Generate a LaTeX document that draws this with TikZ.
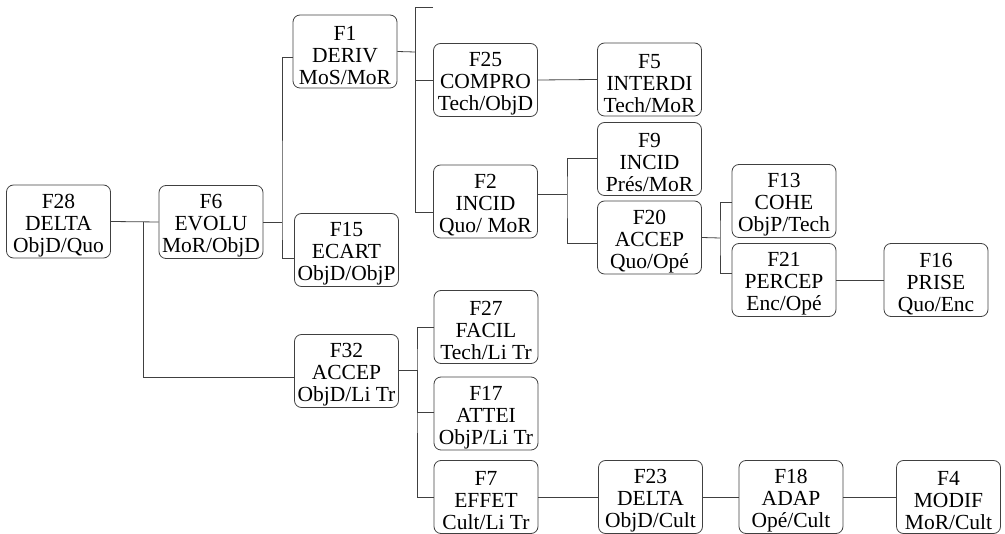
\documentclass[tikz,border=0pt]{standalone}
\usepackage{fontspec}
\setmainfont{Liberation Serif}
\newcommand\boxtext[3]{\raisebox{0pt}[22pt]{#1}\\#2\\#3}
\begin{document}
\begin{tikzpicture}[x=1pt,y=-1pt,
  fbox/.style={draw=black!75, line width=0.8pt, rounded corners=7pt,
    minimum width=104pt, minimum height=73pt, inner sep=0pt, align=center,
    font=\fontsize{21.5}{22}\selectfont},
  link/.style={draw=black!75, line width=0.8pt}]
\useasboundingbox (0,0) rectangle (1005,534);
% boxes
\node[fbox] (F28) at (58.5,221.5) {\boxtext{F28}{DELTA}{ObjD/Quo}};
\node[fbox] (F6)  at (211,222)   {\boxtext{F6}{EVOLU}{MoR/ObjD}};
\node[fbox] (F1)  at (345,51.5)  {\boxtext{F1}{DERIV}{MoS/MoR}};
\node[fbox] (F15) at (346.5,250) {\boxtext{F15}{ECART}{ObjD/ObjP}};
\node[fbox] (F25) at (485.5,80)  {\boxtext{F25}{COMPRO}{Tech/ObjD}};
\node[fbox] (F2)  at (485.5,201.5) {\boxtext{F2}{INCID}{Quo/ MoR}};
\node[fbox] (F5)  at (649.5,79.5) {\boxtext{F5}{INTERDI}{Tech/MoR}};
\node[fbox] (F9)  at (649.5,159) {\boxtext{F9}{INCID}{Prés/MoR}};
\node[fbox] (F20) at (649.5,237.5) {\boxtext{F20}{ACCEP}{Quo/Opé}};
\node[fbox] (F13) at (784,201)   {\boxtext{F13}{COHE}{ObjP/Tech}};
\node[fbox] (F21) at (784,280)   {\boxtext{F21}{PERCEP}{Enc/Opé}};
\node[fbox] (F16) at (936,280)   {\boxtext{F16}{PRISE}{Quo/Enc}};
\node[fbox] (F32) at (346.5,371) {\boxtext{F32}{ACCEP}{ObjD/Li Tr}};
\node[fbox] (F27) at (486,327)   {\boxtext{F27}{FACIL}{Tech/Li Tr}};
\node[fbox] (F17) at (486,413.5) {\boxtext{F17}{ATTEI}{ObjP/Li Tr}};
\node[fbox] (F7)  at (486,497)   {\boxtext{F7}{EFFET}{Cult/Li Tr}};
\node[fbox] (F23) at (650.5,497) {\boxtext{F23}{DELTA}{ObjD/Cult}};
\node[fbox] (F18) at (791,497)   {\boxtext{F18}{ADAP}{Opé/Cult}};
\node[fbox] (F4)  at (948.5,497) {\boxtext{F4}{MODIF}{MoR/Cult}};
% junction points
\coordinate (j0) at (143,222);
\coordinate (j1) at (282,222);
\coordinate (j2) at (415,52);
\coordinate (jtop) at (415,7);
\coordinate (stub) at (433,7);
\coordinate (j3) at (567,194);
\coordinate (j4) at (720,238);
\coordinate (j5) at (417,370);
% connectors
\draw[link] (F28.east) -- (F6.west);
\draw[link] (j0) |- ([yshift=-6pt]F32.west);
\draw[link] (F6.east) -- (j1);
\draw[link] ([yshift=-5.5pt]F1.west) -| (j1) |- ([yshift=-8pt]F15.west);
\draw[link] (F1.east) -- (j2);
\draw[link] (stub) -- (jtop) |- (F25.west);
\draw[link] (j2) |- ([yshift=-10.5pt]F2.west);
\draw[link] (F25.east) -- (F5.west);
\draw[link] ([yshift=7.5pt]F2.east) -- (j3);
\draw[link] ([yshift=1pt]F9.west) -| (j3) |- ([yshift=-5.5pt]F20.west);
\draw[link] (F20.east) -- (j4);
\draw[link] ([yshift=-1pt]F13.west) -| (j4) |- ([yshift=7pt]F21.west);
\draw[link] (F21.east) -- (F16.west);
\draw[link] ([yshift=1pt]F32.east) -- (j5);
\draw[link] (F27.west) -| (j5) |- (F7.west);
\draw[link] (j5) |- ([yshift=1.5pt]F17.west);
\draw[link] (F7.east) -- (F23.west);
\draw[link] (F23.east) -- (F18.west);
\draw[link] (F18.east) -- (F4.west);
\end{tikzpicture}
\end{document}
